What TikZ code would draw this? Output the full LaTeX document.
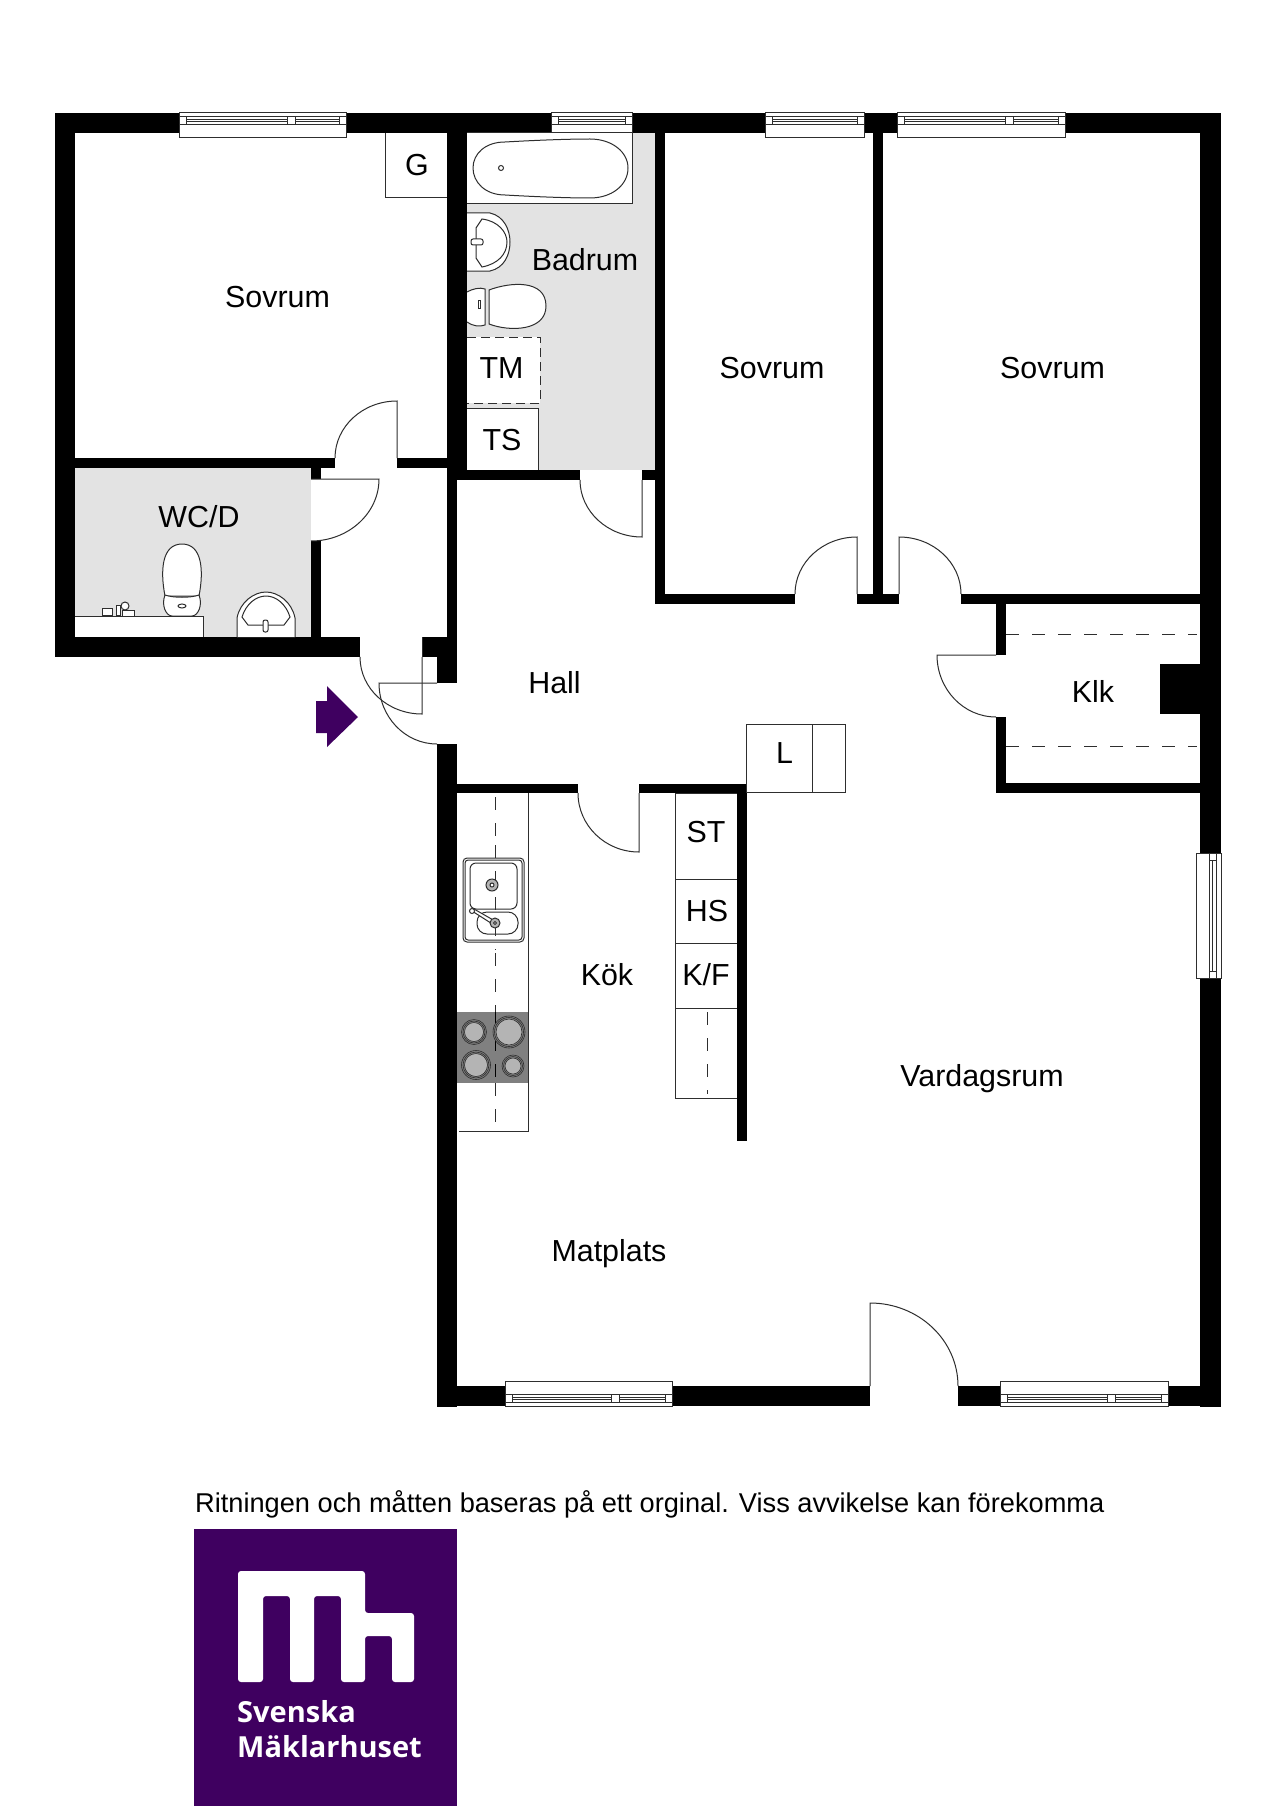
\documentclass[tikz,border=0pt]{standalone}
\usepackage{fontspec}
\setmainfont{Liberation Sans}
\newfontfamily\logofont{Open Sans}
\definecolor{floorgrey}{HTML}{E3E3E3}
\definecolor{hobgrey}{HTML}{808080}
\definecolor{plategrey}{HTML}{B4B4B4}
\definecolor{linegrey}{HTML}{2E2E2E}
\definecolor{brandpurple}{HTML}{3F0060}
\tikzset{
	thinline/.style={draw=linegrey,line width=1pt},
	fitting/.style={thinline,fill=white},
	dashline/.style={thinline,dash pattern=on 13pt off 13pt},
	roomlabel/.style={font=\fontsize{30.4}{30}\selectfont,inner sep=0pt,text=black},
	logolabel/.style={font=\logofont\bfseries\fontsize{29}{30}\selectfont,inner sep=0pt,anchor=west,text=white},
}
\begin{document}
\begin{tikzpicture}[x=1pt,y=-1pt]
	\useasboundingbox[fill=white] (0,0) rectangle (1280,1811);
	% Wet room floors
	\fill[floorgrey] (467,133) rectangle (655,470);
	\fill[floorgrey] (75,468) rectangle (311,637);
	% Walls
	\foreach \xa/\ya/\xb/\yb in {
		55/113/1221/133, 55/113/75/657, 55/637/360/657, 75/458/335/468, 397/458/447/468,
		311/468/321/479, 311/541/321/637, 447/113/467/480, 447/480/457/657, 422/637/457/657,
		437/657/457/683, 457/470/580/480, 642/470/665/480, 655/133/665/604, 873/133/883/604,
		656/594/795/604, 857/594/899/604, 961/594/1200/604, 1200/113/1221/853, 1200/978/1221/1407,
		996/604/1006/655, 996/717/1006/793, 996/783/1200/793, 1160/664/1200/714,
		437/744/457/1407, 457/784/578/793, 639/784/747/793, 737/784/747/1141,
		437/1386/870/1406, 958/1386/1221/1406}{
		\fill[black] (\xa,\ya) rectangle (\xb,\yb);
	}
	% Windows along the top and bottom walls
	\foreach \xa/\xb/\ya/\flip in {179/346/113/1, 551/632/113/1, 765/864/113/1, 897/1065/113/1, 505/672/1406/-1, 1000/1168/1406/-1}{
		\begin{scope}[shift={(0,\ya)},yscale=\flip]
			\draw[fitting] (\xa,0) rectangle (\xb,25);
			\draw[thinline] (\xa,4) -- (\xb,4) (\xa,12) -- (\xb,12);
			\draw[thinline] (\xa+7,4) -- (\xa+7,12) (\xb-7,4) -- (\xb-7,12);
			\draw[thinline] (\xa+7,7) -- (\xb-7,7) (\xa+7,9) -- (\xb-7,9);
		\end{scope}
	}
	% Mullions
	\foreach \xm/\ya/\yb in {287/117/125, 1005/117/125, 611/1394/1402, 1107/1394/1402}{
		\draw[fitting] (\xm,\ya) rectangle (\xm+8,\yb);
	}
	% Window in the east wall
	\draw[fitting] (1196,853) rectangle (1221,978);
	\draw[thinline] (1209,853) -- (1209,978) (1216,853) -- (1216,978);
	\draw[thinline] (1212,860) -- (1212,971) (1209,860) -- (1216,860) (1209,971) -- (1216,971);
	% Doors
	\foreach \xc/\yc/\xe/\ye/\sa/\ea/\rx/\ry in {
		397/458/397/401/270/180/62/57, 311/479/379/479/0/90/68/62, 422/657/422/714/90/180/62/57,
		437/683/379/683/180/90/58/61, 642/480/642/537/90/180/62/57, 857/594/857/537/270/180/62/57,
		899/594/899/537/270/360/62/57, 996/655/937/655/180/90/59/62, 639/793/639/852/90/180/61/59,
		870/1386/870/1303/270/360/88/83}{
		\draw[thinline] (\xc,\yc) -- (\xe,\ye) arc[start angle=\sa,end angle=\ea,x radius=\rx,y radius=\ry];
	}
	\draw[thinline] (422,637) -- (422,657);
	% Storage boxes
	\draw[thinline] (385,133) -- (385,198) -- (447,198);
	\draw[thinline] (746,724) rectangle (845,792) (812,724) -- (812,792);
	\fill[white] (467,408) rectangle (538,470);
	\draw[thinline] (467,408) -- (538,408) -- (538,470);
	\fill[white] (467,337) rectangle (540,403);
	\draw[thinline,dash pattern=on 9pt off 5pt] (467,337) -- (540,337) -- (540,403) -- (467,403);
	% Bath
	\draw[fitting] (467,133) -- (632,133) -- (632,204) -- (467,204);
	\draw[thinline] (505,142) .. controls (540,140) and (570,139) .. (590,139) .. controls (612,139) and (628,152) .. (628,168) .. controls (628,185) and (612,198) .. (590,198) .. controls (570,198) and (540,197) .. (505,195) .. controls (485,195) and (473,182) .. (473,168) .. controls (473,154) and (485,142) .. (505,142);
	\draw[thinline] (501,168) circle (2.5);
	% Bathroom basin
	\draw[fitting] (467,213) -- (490,213) .. controls (504,216) and (510,230) .. (510,242) .. controls (510,255) and (504,268) .. (490,271) -- (467,271);
	\draw[thinline] (476,228) -- (482,219) .. controls (498,221) and (507,232) .. (507,242) .. controls (507,254) and (498,264) .. (482,267) -- (476,258) -- cycle;
	\draw[fitting,rounded corners=2pt] (471,239) rectangle (483,245);
	% Bathroom toilet
	\draw[fitting] (489,290) .. controls (510,282) and (546,279) .. (546,306) .. controls (546,331) and (510,332) .. (489,324) -- cycle;
	\draw[fitting] (467,292) .. controls (472,289) and (480,287) .. (485,289) -- (485,325) .. controls (480,327) and (472,326) .. (467,322);
	\draw[thinline] (478,300) rectangle (480,308);
	% WC toilet
	\draw[fitting] (165,596) .. controls (160,570) and (162,544) .. (182,544) .. controls (202,544) and (204,570) .. (199,596) -- cycle;
	\draw[fitting] (165,595) .. controls (173,598) and (191,598) .. (199,595) .. controls (203,605) and (198,616) .. (192,616) -- (172,616) .. controls (166,616) and (161,605) .. (165,595);
	\draw[thinline] (182,606) ellipse (4 and 2);
	% WC basin
	\draw[fitting] (237,637) -- (237,618) .. controls (240,602) and (254,592) .. (266,592) .. controls (278,592) and (292,602) .. (295,618) -- (295,637);
	\draw[thinline] (242,617) .. controls (246,604) and (256,596) .. (266,596) .. controls (276,596) and (286,604) .. (290,617) -- (284,625) -- (248,625) -- cycle;
	\draw[fitting,rounded corners=2pt] (263,620) rectangle (268,632);
	% Shelf with tap
	\fill[white] (75,616) rectangle (203,637);
	\draw[thinline] (75,616) -- (203,616) -- (203,637);
	\draw[fitting] (102,608) rectangle (112,615);
	\draw[fitting] (116,605) rectangle (120,615);
	\draw[fitting] (125,606) circle (4);
	\draw[fitting] (122,610) rectangle (134,616);
	% Kitchen counter
	\draw[thinline] (528,793) -- (528,1131) -- (459,1131);
	\draw[dashline] (495,797) -- (495,1122);
	% Kitchen sink
	\draw[fitting,rounded corners=4pt] (463,858) rectangle (524,942);
	\draw[thinline,rounded corners=3pt] (465,860) rectangle (522,940);
	\draw[fitting,rounded corners=6pt] (470,863) rectangle (517,909);
	\draw[fitting,rounded corners=10pt] (477,912) rectangle (518,934);
	\draw[dashline] (495,845) -- (495,950);
	\draw[thinline,fill=plategrey] (492,885) circle (6);
	\draw[thinline,fill=white] (492,885) circle (2);
	\draw[fitting] (472,911) -- (494,925) -- (495,921) -- (474,909) -- cycle;
	\draw[thinline,fill=white] (472,911) circle (2.5);
	\draw[thinline,fill=plategrey] (495,923) circle (5);
	\draw[thinline,fill=white] (495,923) circle (1.5);
	% Hob
	\fill[hobgrey] (457,1012) rectangle (528,1083);
	\draw[dashline,draw=black] (495,1012) -- (495,1083);
	\foreach \xc/\yc/\rad in {474/1032/12.5, 509/1032/16, 476/1065/14.5, 513/1066/11}{
		\draw[draw=linegrey,line width=0.6pt,fill=hobgrey] (\xc,\yc) circle (\rad);
		\draw[draw=linegrey,line width=0.6pt] (\xc,\yc) circle (\rad-1.5);
		\draw[draw=linegrey,line width=0.6pt,fill=plategrey] (\xc,\yc) circle (\rad-3);
	}
	% Cupboards
	\draw[thinline] (737,793) -- (675,793) -- (675,1098) -- (737,1098);
	\foreach \yc in {879,943,1008}{
		\draw[thinline] (675,\yc) -- (737,\yc);
	}
	\draw[dashline] (707,1012) -- (707,1094);
	% Klk
	\draw[dashline] (1006,634) -- (1197,634);
	\draw[dashline] (1006,746) -- (1197,746);
	% Entrance arrow
	\fill[brandpurple] (316,701) -- (327,701) -- (327,686) -- (358,717) -- (327,747) -- (327,733) -- (316,733) -- cycle;
	% Room names
	\node[roomlabel] (sovruma) at (277.5,297) {Sovrum};
	\node[roomlabel] (sovrumb) at (772,368) {Sovrum};
	\node[roomlabel] (sovrumc) at (1052.5,368) {Sovrum};
	\node[roomlabel] (badrum) at (585,259.5) {Badrum};
	\node[roomlabel] (wcd) at (199,517) {WC/D};
	\node[roomlabel] (hall) at (554.5,683) {Hall};
	\node[roomlabel] (klk) at (1093,691) {Klk};
	\node[roomlabel] (kok) at (607,975) {Kök};
	\node[roomlabel] (vardagsrum) at (982,1078.5) {Vardagsrum};
	\node[roomlabel] (matplats) at (609,1253.5) {Matplats};
	% Fittings
	\node[roomlabel] (g) at (417,165) {G};
	\node[roomlabel] (tm) at (501.5,368) {TM};
	\node[roomlabel] (ts) at (502,440) {TS};
	\node[roomlabel] (l) at (784.5,753) {L};
	\node[roomlabel] (st) at (706,832) {ST};
	\node[roomlabel] (hs) at (707,911) {HS};
	\node[roomlabel] (kf) at (706,975) {K/F};
	% Footer
	\node[roomlabel,anchor=west,font=\fontsize{27.2}{27}\selectfont] (note) at (195,1504) {Ritningen och måtten baseras på ett orginal. Viss avvikelse kan förekomma};
	% Logo
	\fill[brandpurple] (194,1529) rectangle (457,1806);
	\fill[white,rounded corners=3pt] (238,1682) -- (238,1571) -- (365,1571) -- (365,1613) -- (414,1613) -- (414,1682) -- (392,1682) -- (392,1636) -- (365,1636) -- (365,1682) -- (341,1682) -- (341,1596) -- (314,1596) -- (314,1682) -- (290,1682) -- (290,1596) -- (263,1596) -- (263,1682) -- cycle;
	\node[logolabel] (svenska) at (237,1712) {Svenska};
	\node[logolabel] (maklarhuset) at (237,1747) {Mäklarhuset};
\end{tikzpicture}
\end{document}
